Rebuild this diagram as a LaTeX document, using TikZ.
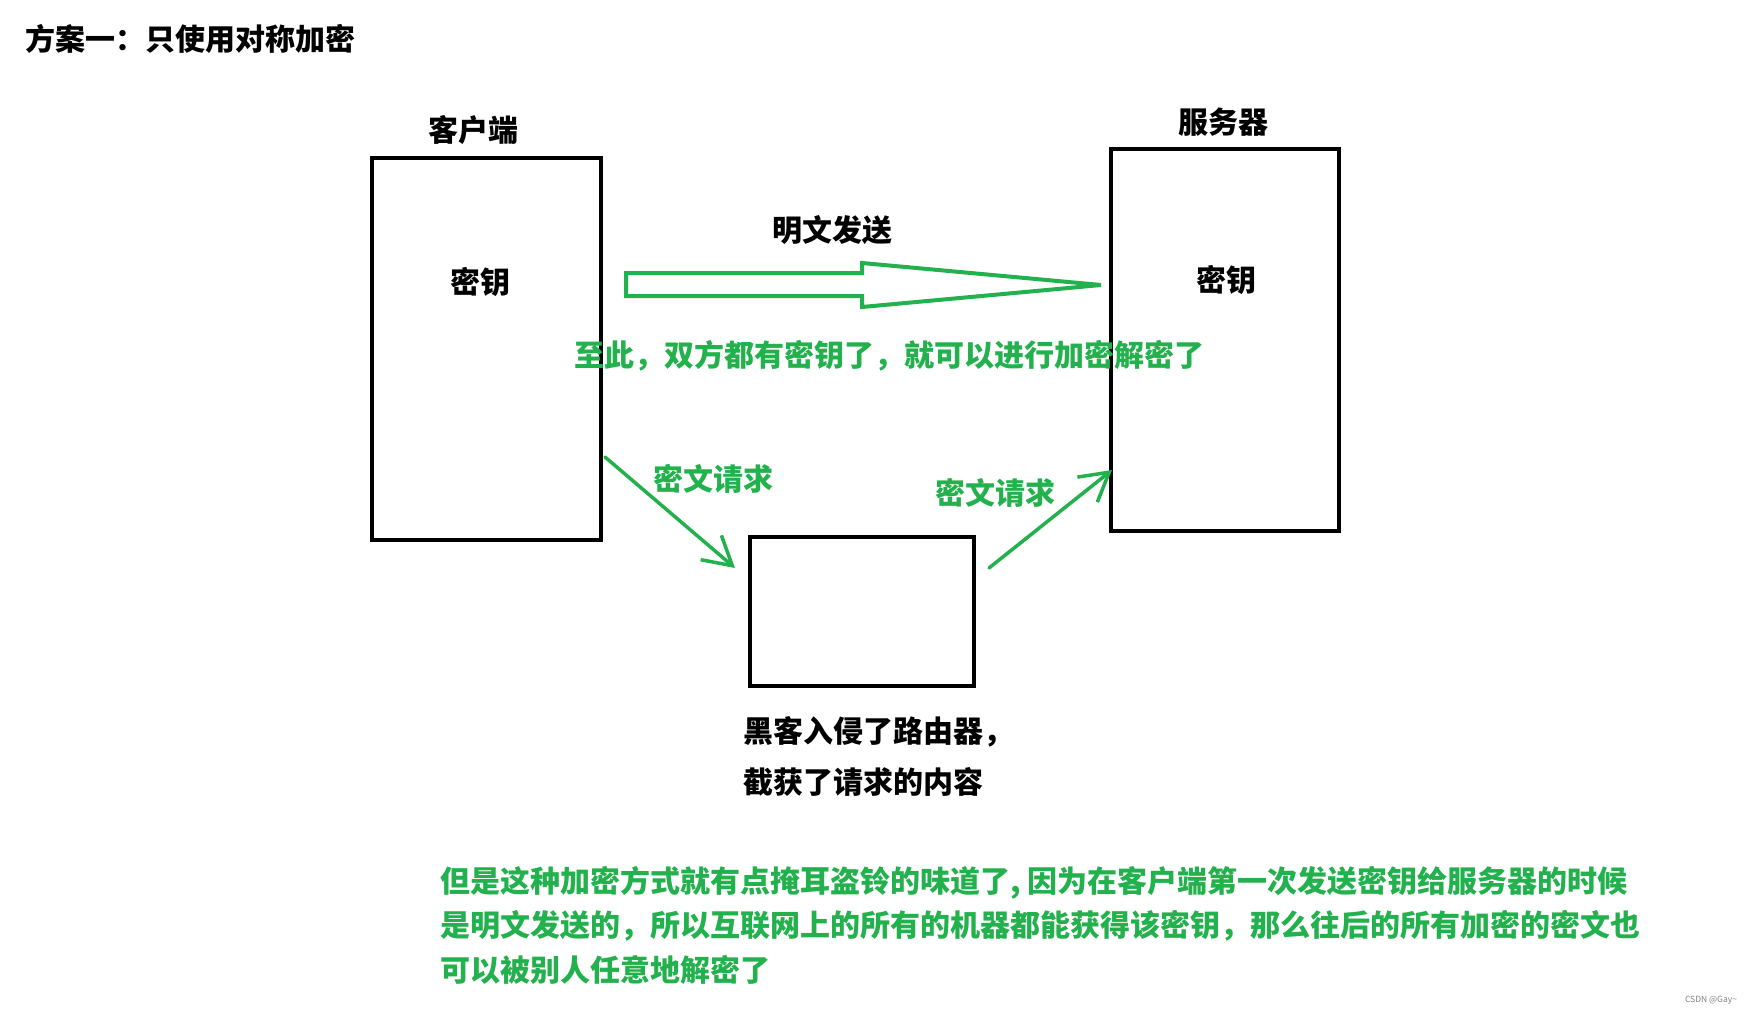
\documentclass[tikz,border=0pt]{standalone}
\usepackage{fontspec}
\setmainfont{Noto Sans CJK SC}
\usepackage{tikz}
\usetikzlibrary{arrows.meta,calc}
\definecolor{paintgreen}{RGB}{34,177,76}

\begin{document}
\begin{tikzpicture}[line cap=round,line join=round,x=1pt,y=-1pt,
  box/.style={draw,line width=4pt,line join=miter,inner sep=0pt},
  blk/.style={font=\bfseries\fontsize{30}{51}\selectfont,inner sep=0pt},
  grn/.style={blk,text=paintgreen},
  req/.style={paintgreen,line width=3.5pt,-{Straight Barb[length=28pt,width=32pt]}}]
\useasboundingbox (0,0) rectangle (1756,1014);
\node[blk,anchor=west] (title) at (25,39) {方案一：只使用对称加密};
\node[box,minimum width=229pt,minimum height=382pt] (client) at (486.5,349) {};
\node[box,minimum width=228pt,minimum height=382pt] (server) at (1225,340) {};
\node[box,minimum width=224pt,minimum height=149pt] (router) at (862,611.5) {};
\node[blk] (clientlbl) at (473,130) {客户端};
\node[blk] (serverlbl) at (1223,122) {服务器};
\node[blk] (clientkey) at (480,282) {密钥};
\node[blk] (serverkey) at (1226,280) {密钥};
\node[blk] (plain) at (832,230) {明文发送};
\draw[paintgreen,line width=4pt,line join=miter] (626,273) -- (862,273) -- (862,263) -- (1101,285) -- (862,307) -- (862,296) -- (626,296) -- cycle;
\node[grn,anchor=west] (bothkeys) at (574,356) {至此，双方都有密钥了，就可以进行加密解密了};
\coordinate (out1) at ($(client.south east)+(2,-85)$);
\coordinate (in1) at ($(router.north west)+(-13,33)$);
\coordinate (out2) at ($(router.north east)+(13,33)$);
\coordinate (in2) at ($(server.south west)+(3,-63)$);
\draw[req] (out1) -- (in1);
\draw[req] (out2) -- (in2);
\node[grn] (req1) at (713,479) {密文请求};
\node[grn] (req2) at (995,493) {密文请求};
\node[blk,anchor=north west,align=left] (hacker) at (743,716) {黑客入侵了路由器，\\截获了请求的内容};
\begin{scope}
\clip (0,0) rectangle (1638,1014);
\node[grn,anchor=north west,align=left,font=\bfseries\fontsize{30}{44.5}\selectfont] (note) at (440,866) {但是这种加密方式就有点掩耳盗铃的味道了, 因为在客户端第一次发送密钥给服务器的时候\\是明文发送的，所以互联网上的所有的机器都能获得该密钥，那么往后的所有加密的密文也\\可以被别人任意地解密了};
\end{scope}
\node[text=gray,font=\fontsize{8.5}{10}\selectfont,inner sep=0pt] (mark) at (1711,1000) {CSDN @Gay\textasciitilde};
\end{tikzpicture}
\end{document}
